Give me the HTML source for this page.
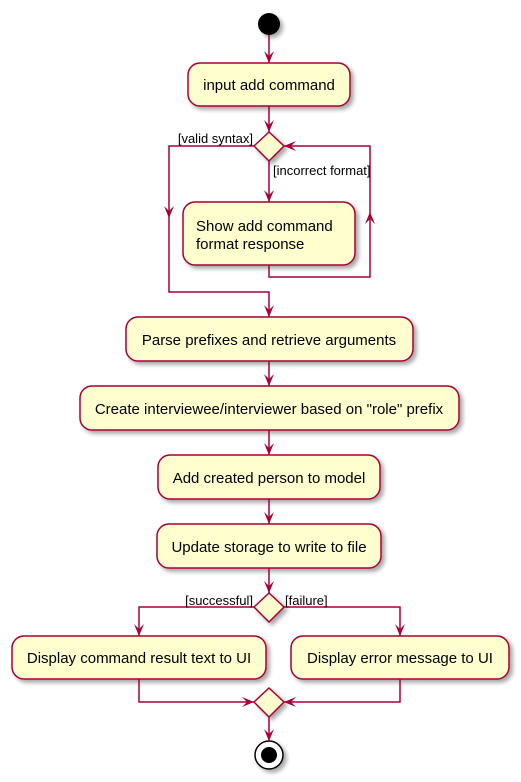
<!DOCTYPE html>
<html><head><meta charset="utf-8"><style>
html,body{margin:0;padding:0;background:#fff;}
svg{display:block;}
text{font-family:"Liberation Sans",sans-serif;font-size:15px;fill:#000;}
.s{font-size:13px;}
</style></head><body>
<svg width="521" height="782" viewBox="0 0 521 782" xmlns="http://www.w3.org/2000/svg">
<defs>
<filter id="sh" x="-10%" y="-10%" width="130%" height="140%"><feGaussianBlur in="SourceAlpha" stdDeviation="2"/><feOffset dx="3" dy="3"/><feComponentTransfer><feFuncA type="linear" slope="0.35"/></feComponentTransfer><feMerge><feMergeNode/><feMergeNode in="SourceGraphic"/></feMerge></filter>
</defs>
<g fill="#FEFECE" stroke="#A80036" stroke-width="1.5" filter="url(#sh)">
<circle cx="269" cy="24" r="11" fill="#000" stroke="none"/>
<rect x="188" y="63" width="162" height="43" rx="12"/>
<polygon points="269,132 284,146 269,161 254,146"/>
<rect x="183" y="202" width="172" height="63" rx="12"/>
<rect x="126" y="317" width="287" height="44" rx="12"/>
<rect x="80" y="386" width="379" height="44" rx="12"/>
<rect x="158" y="455" width="222" height="44" rx="12"/>
<rect x="157" y="524" width="224" height="44" rx="12"/>
<polygon points="269,593 284,607 269,622 254,607"/>
<rect x="12" y="636" width="254" height="43" rx="12"/>
<rect x="291" y="636" width="218" height="43" rx="12"/>
<polygon points="269,688 284,702 269,717 254,702"/>
<circle cx="269" cy="755" r="14" fill="#fff" stroke="#000"/>
<circle cx="269" cy="755" r="8" fill="#000" stroke="none"/>
</g>
<g fill="none" stroke="#A80036" stroke-width="1.5">
<path d="M269 35V63M269 106V132M269 161V202M254 146H169V292H269V317M269 265V277H370V146H284M269 361V386M269 430V455M269 499V524M269 568V593M254 607H139V636M284 607H400V636M139 679V702H254M400 679V702H284M269 717V741"/>
</g>
<g fill="#A80036">
<polygon points="264,51 269,63 274,51 269,56"/>
<polygon points="264,120 269,132 274,120 269,125"/>
<polygon points="264,190 269,202 274,190 269,195"/>
<polygon points="164,206 169,218 174,206 169,211"/>
<polygon points="365,224 370,212 375,224 370,219"/>
<polygon points="296,141 284,146 296,151 291,146"/>
<polygon points="264,305 269,317 274,305 269,310"/>
<polygon points="264,374 269,386 274,374 269,379"/>
<polygon points="264,443 269,455 274,443 269,448"/>
<polygon points="264,512 269,524 274,512 269,517"/>
<polygon points="264,581 269,593 274,581 269,586"/>
<polygon points="134,624 139,636 144,624 139,629"/>
<polygon points="395,624 400,636 405,624 400,629"/>
<polygon points="242,697 254,702 242,707 247,702"/>
<polygon points="296,697 284,702 296,707 291,702"/>
<polygon points="264,729 269,741 274,729 269,734"/>
</g>
<text x="269" y="90" text-anchor="middle">input add command</text>
<text class="s" x="253" y="143" text-anchor="end">[valid syntax]</text>
<text class="s" x="273" y="175">[incorrect format]</text>
<text x="196" y="231">Show add command</text>
<text x="196" y="249">format response</text>
<text x="269" y="345" text-anchor="middle">Parse prefixes and retrieve arguments</text>
<text x="269" y="414" text-anchor="middle">Create interviewee/interviewer based on "role" prefix</text>
<text x="269" y="483" text-anchor="middle">Add created person to model</text>
<text x="269" y="552" text-anchor="middle">Update storage to write to file</text>
<text class="s" x="253" y="605" text-anchor="end">[successful]</text>
<text class="s" x="285" y="605">[failure]</text>
<text x="139" y="663" text-anchor="middle">Display command result text to UI</text>
<text x="400" y="663" text-anchor="middle">Display error message to UI</text>
</svg>
</body></html>
